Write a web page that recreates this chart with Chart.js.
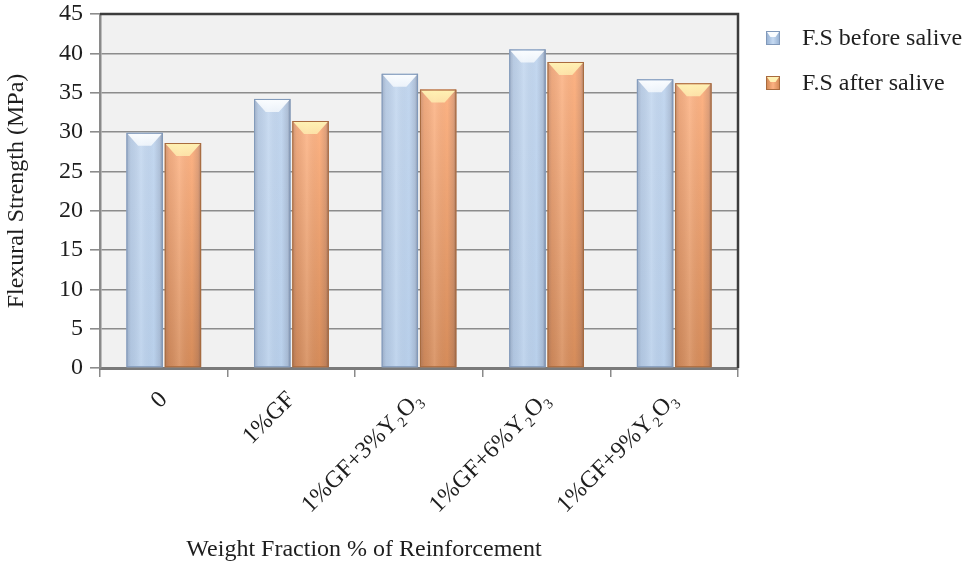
<!DOCTYPE html>
<html>
<head>
<meta charset="utf-8">
<script src="https://cdn.jsdelivr.net/npm/chart.js@4.4.1/dist/chart.umd.min.js"></script>
<style>
  html, body { margin: 0; padding: 0; background: #ffffff; overflow: hidden; }
  #chart { display: block; }
</style>
</head>
<body>
<canvas id="chart" width="974" height="568"></canvas>
<script>
// Reinforcement groups along the x axis
const categories = ['0', '1%GF', '1%GF+3%Y\u2082O\u2083', '1%GF+6%Y\u2082O\u2083', '1%GF+9%Y\u2082O\u2083'];
// Flexural strength (MPa)
const beforeSalive = [29.9, 34.2, 37.4, 40.5, 36.7];
const afterSalive  = [28.6, 31.4, 35.4, 38.9, 36.2];
const seriesNames  = ['F.S before salive', 'F.S after salive'];
const yTicks = { min: 0, max: 45, step: 5 };
const axisTitleY = 'Flexural Strength (MPa)';
const axisTitleX = 'Weight Fraction % of Reinforcement';

const SERIF = "'Liberation Serif', 'Times New Roman', serif";
const FONT_SIZE = 24;

// shading palettes for the two series
const palettes = [
  { edge: '#93AED0', mid: '#C6DAF2', top: '#C3D7EF', bottom: '#B9D0EB', cap: '#FBFDFF', line: '#8199BA' },
  { edge: '#CF8551', mid: '#FCB282', top: '#FDB384', bottom: '#D68C5A', cap: '#FFF2B4', line: '#A86B3E' }
];

// plot background
const plotBg = {
  id: 'plotBg',
  beforeDraw(chart) {
    const { ctx, chartArea: a } = chart;
    ctx.save();
    ctx.fillStyle = '#F1F1F1';
    ctx.fillRect(a.left, a.top, a.right - a.left, a.bottom - a.top);
    ctx.restore();
  }
};

// cylinder-like shading and bevelled caps on each bar
const barShade = {
  id: 'barShade',
  afterDatasetsDraw(chart) {
    const ctx = chart.ctx;
    chart.data.datasets.forEach((ds, di) => {
      const pal = palettes[di];
      chart.getDatasetMeta(di).data.forEach(bar => {
        const p = bar.getProps(['x', 'y', 'base', 'width'], true);
        const l = p.x - p.width / 2, r = p.x + p.width / 2;
        const t = Math.min(p.y, p.base), b = Math.max(p.y, p.base);
        ctx.save();
        // vertical tone
        const gv = ctx.createLinearGradient(0, t, 0, b);
        gv.addColorStop(0, pal.top);
        gv.addColorStop(1, pal.bottom);
        ctx.fillStyle = gv;
        ctx.fillRect(l, t, r - l, b - t);
        // horizontal rounding
        const gh = ctx.createLinearGradient(l, 0, r, 0);
        gh.addColorStop(0, 'rgba(60,60,80,0.25)');
        gh.addColorStop(0.12, 'rgba(60,60,80,0.08)');
        gh.addColorStop(0.4, 'rgba(255,255,255,0.12)');
        gh.addColorStop(0.75, 'rgba(60,60,80,0.0)');
        gh.addColorStop(0.92, 'rgba(60,60,80,0.15)');
        gh.addColorStop(1, 'rgba(40,40,60,0.40)');
        ctx.fillStyle = gh;
        ctx.fillRect(l, t, r - l, b - t);
        // bevelled cap
        const depth = Math.min(13, (b - t) / 2);
        const inset = (r - l) * 0.32;
        const gc = ctx.createLinearGradient(0, t, 0, t + depth);
        gc.addColorStop(0, pal.cap);
        gc.addColorStop(1, pal.cap + 'bb');
        ctx.beginPath();
        ctx.moveTo(l + 1, t + 1);
        ctx.lineTo(r - 1, t + 1);
        ctx.lineTo(r - inset, t + depth);
        ctx.lineTo(l + inset, t + depth);
        ctx.closePath();
        ctx.fillStyle = gc;
        ctx.fill();
        // outline
        ctx.strokeStyle = pal.line;
        ctx.lineWidth = 1;
        ctx.strokeRect(l + 0.5, t + 0.5, r - l - 1, b - t - 1);
        ctx.restore();
      });
    });
  }
};

// frame, legend and x-axis caption
const extras = {
  id: 'extras',
  afterDraw(chart) {
    const { ctx, chartArea: a } = chart;
    ctx.save();
    // dark frame on top and right
    ctx.strokeStyle = '#3C3C3C';
    ctx.lineWidth = 2.5;
    ctx.beginPath();
    ctx.moveTo(a.left, a.top);
    ctx.lineTo(a.right, a.top);
    ctx.lineTo(a.right, a.bottom);
    ctx.stroke();

    // legend
    ctx.font = FONT_SIZE + 'px ' + SERIF;
    ctx.textBaseline = 'middle';
    ctx.textAlign = 'left';
    const rows = [38, 83];
    chart.data.datasets.forEach((ds, i) => {
      const pal = palettes[i];
      const x = 766, y = rows[i] - 7, s = 14;
      const g = ctx.createLinearGradient(x, 0, x + s, 0);
      g.addColorStop(0, pal.edge);
      g.addColorStop(0.5, pal.mid);
      g.addColorStop(1, pal.edge);
      ctx.fillStyle = g;
      ctx.fillRect(x, y, s, s);
      ctx.beginPath();
      ctx.moveTo(x + 1, y + 1);
      ctx.lineTo(x + s - 1, y + 1);
      ctx.lineTo(x + s * 0.68, y + 6);
      ctx.lineTo(x + s * 0.32, y + 6);
      ctx.closePath();
      ctx.fillStyle = pal.cap;
      ctx.fill();
      ctx.strokeStyle = pal.line;
      ctx.lineWidth = 1;
      ctx.strokeRect(x + 0.5, y + 0.5, s - 1, s - 1);
      ctx.fillStyle = '#1E1E1E';
      ctx.fillText(ds.label, 802, rows[i] + 1);
    });

    // x-axis caption
    ctx.textAlign = 'center';
    ctx.fillText(axisTitleX, 364, 550);
    ctx.restore();
  }
};

new Chart(document.getElementById('chart'), {
  type: 'bar',
  data: {
    labels: categories,
    datasets: [
      { label: seriesNames[0], data: beforeSalive, backgroundColor: palettes[0].mid, borderColor: palettes[0].line, borderWidth: 1,
        categoryPercentage: 0.6, barPercentage: 0.95 },
      { label: seriesNames[1], data: afterSalive, backgroundColor: palettes[1].mid, borderColor: palettes[1].line, borderWidth: 1,
        categoryPercentage: 0.6, barPercentage: 0.95 }
    ]
  },
  options: {
    responsive: false,
    animation: false,
    devicePixelRatio: 1,
    layout: { padding: { top: 14, right: 236, bottom: 0, left: 0 } },
    plugins: {
      legend: { display: false },
      tooltip: { enabled: false }
    },
    scales: {
      x: {
        offset: true,
        grid: { offset: true, drawOnChartArea: false, drawTicks: true, tickLength: 9, color: '#8A8A8A', lineWidth: 1.5 },
        border: { color: '#7A7A7A', width: 3 },
        ticks: {
          autoSkip: false, minRotation: 45, maxRotation: 45, padding: 9,
          color: '#1E1E1E', font: { family: SERIF, size: FONT_SIZE }
        },
        afterFit(scale) { scale.height = 200; scale.paddingLeft = 0; scale.paddingRight = 0; }
      },
      y: {
        min: yTicks.min, max: yTicks.max,
        grid: { color: '#8C8C8C', lineWidth: 1.6, tickLength: 10, drawTicks: true },
        border: { color: '#8A8A8A', width: 2.5 },
        ticks: {
          stepSize: yTicks.step, padding: 7,
          color: '#1E1E1E', font: { family: SERIF, size: FONT_SIZE }
        },
        title: {
          display: true, text: axisTitleY, padding: { top: 2, bottom: 0 },
          color: '#1E1E1E', font: { family: SERIF, size: FONT_SIZE }
        },
        afterFit(scale) { scale.width = 100; scale.paddingTop = 0; scale.paddingBottom = 0; }
      }
    }
  },
  plugins: [plotBg, barShade, extras]
});
</script>
</body>
</html>
